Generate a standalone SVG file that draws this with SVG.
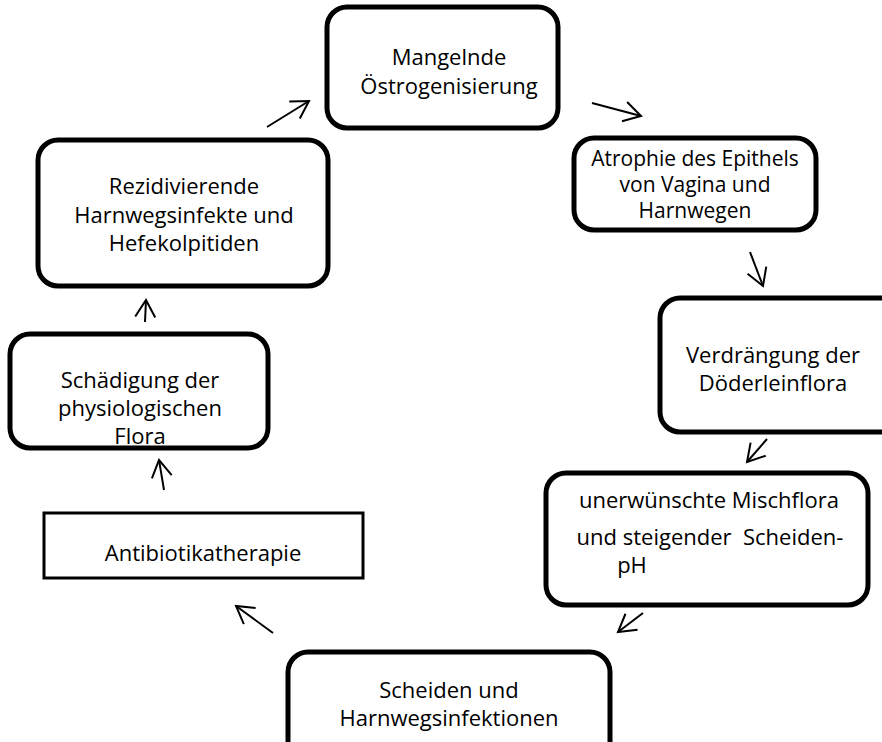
<svg xmlns="http://www.w3.org/2000/svg" width="882" height="742" viewBox="0 0 882 742">
<defs>
<style>
.box{fill:#fff;stroke:#000;stroke-width:5}
.sq{fill:#fff;stroke:#000;stroke-width:3}
text{font-family:"Open Sans","Liberation Sans",sans-serif;font-size:22px;fill:#000;text-anchor:middle}
.sm{font-size:21px}
.c{stroke:#000;stroke-width:2;fill:none}
</style>
<marker id="ah" markerWidth="22" markerHeight="24" refX="18" refY="11" orient="auto" markerUnits="userSpaceOnUse">
<path d="M1,1 L18,11 L1,21" fill="none" stroke="#000" stroke-width="2"/>
</marker>
</defs>
<rect width="882" height="742" fill="#fff"/>
<g id="n1"><rect class="box" x="327" y="7" width="231" height="121" rx="20"/>
<text x="449" y="65">Mangelnde</text><text x="449" y="94">Östrogenisierung</text></g>
<g id="n2"><rect class="box" x="574" y="138" width="242" height="92" rx="20"/>
<text class="sm" x="695" y="166">Atrophie des Epithels</text><text class="sm" x="695" y="192">von Vagina und</text><text class="sm" x="695" y="218">Harnwegen</text></g>
<g id="n3"><rect class="box" x="38" y="140" width="290" height="146" rx="20"/>
<text x="184" y="194">Rezidivierende</text><text x="184" y="223">Harnwegsinfekte und</text><text x="184" y="251">Hefekolpitiden</text></g>
<g id="n4"><rect class="box" x="660" y="298" width="240" height="134" rx="20"/>
<text x="773" y="363">Verdrängung der</text><text x="773" y="391">Döderleinflora</text></g>
<g id="n5"><rect class="box" x="10" y="334" width="258" height="114" rx="20"/>
<text x="140" y="388">Schädigung der</text><text x="140" y="416">physiologischen</text><text x="140" y="444">Flora</text></g>
<g id="n6"><rect class="box" x="546" y="473" width="322" height="132" rx="20"/>
<text x="709" y="508">unerwünschte Mischflora</text><text x="710" y="545" xml:space="preserve">und steigender  Scheiden-</text><text x="632" y="573">pH</text></g>
<g id="n7"><rect class="sq" x="44" y="513" width="319" height="65"/>
<text x="203" y="561">Antibiotikatherapie</text></g>
<g id="n8"><rect class="box" x="288" y="652" width="322" height="110" rx="20"/>
<text x="449" y="698">Scheiden und</text><text x="449" y="726">Harnwegsinfektionen</text></g>
<g id="connectors">
<line class="c" x1="267" y1="127" x2="309" y2="101" marker-end="url(#ah)"/>
<line class="c" x1="592" y1="103" x2="641" y2="116" marker-end="url(#ah)"/>
<line class="c" x1="750" y1="252" x2="763" y2="286" marker-end="url(#ah)"/>
<line class="c" x1="767" y1="439" x2="747" y2="462" marker-end="url(#ah)"/>
<line class="c" x1="643" y1="613" x2="618" y2="632" marker-end="url(#ah)"/>
<line class="c" x1="273" y1="633" x2="236" y2="606" marker-end="url(#ah)"/>
<line class="c" x1="164" y1="490" x2="159" y2="460" marker-end="url(#ah)"/>
<line class="c" x1="145" y1="322" x2="146" y2="300" marker-end="url(#ah)"/>
</g>
</svg>
